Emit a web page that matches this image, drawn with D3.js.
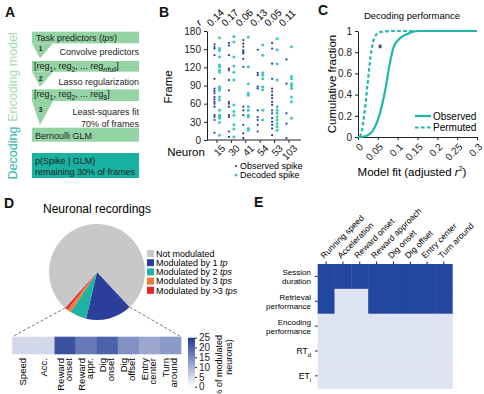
<!DOCTYPE html>
<html>
<head>
<meta charset="utf-8">
<script src="https://cdn.jsdelivr.net/npm/d3@7"></script>
<style>
  body { margin: 0; background: #fff; }
  svg { font-family: "Liberation Sans", Arial, sans-serif; }
  .axis text { font-size: 10px; fill: #222; }
  .axis path, .axis line { stroke: #222; }
</style>
</head>
<body>
<div id="chart"></div>
<script>
// ---- data ----
var neurons = ["15", "30", "41", "54", "53", "103"];
var rValues = ["0.14", "0.17", "0.06", "0.13", "0.05", "0.11"];
var observedFrames = [
  [158, 154, 151, 140, 101, 85, 81, 77, 71, 67, 63, 60, 55, 41, 38, 33, 12],
  [160, 156, 140, 118, 115, 99, 82, 63, 60, 55, 41, 38, 14, 5],
  [165, 159, 154, 148, 145, 143, 134, 121, 55, 49, 41, 25, 11, 3],
  [149, 111, 107, 88, 85, 49, 38, 33, 25, 14],
  [160, 151, 126, 101, 85, 80, 74, 69, 63, 58, 49, 44, 36, 30, 25, 19, 8],
  [133, 93, 44, 27, 3]
];
var decodedFrames = [
  [169, 151, 148, 137, 124, 121, 115, 112, 88, 85, 82, 71, 66, 49, 41, 38, 36, 29, 8],
  [171, 162, 137, 122, 112, 99, 58, 47, 41, 25, 18, 5],
  [170, 121, 93, 77, 74, 55, 49, 41, 38, 19, 16],
  [157, 140, 111, 107, 101, 88, 83, 49, 33],
  [167, 149, 126, 99, 55, 49, 44, 38, 33, 27, 22, 16],
  [154, 105, 101, 93, 89, 85, 71, 63, 36]
];

var fitObservedX = [0, 0.009, 0.03, 0.042, 0.055, 0.07, 0.08, 0.09, 0.1, 0.123, 0.152, 0.3];
var fitObservedY = [0, 0, 0.03, 0.09, 0.22, 0.47, 0.69, 0.85, 0.91, 0.97, 1, 1];
var fitPermutedX = [0.005, 0.009, 0.017, 0.025, 0.034, 0.042, 0.055, 0.085, 0.14];
var fitPermutedY = [0, 0.05, 0.25, 0.53, 0.82, 0.94, 0.99, 1, 1];
var fitTicks = [0, 0.05, 0.1, 0.15, 0.2, 0.25, 0.3];

var pieLabels = ["Modulated by 1 ", "Modulated by 2 ", "Modulated by 3 ", "Modulated by >3 ", "Not modulated"];
var pieItalic = ["tp", "tps", "tps", "tps", ""];
var pieValues = [15.6, 5.6, 1.3, 1.0, 76.5];
var pieColors = ["#2b3f9a", "#1fb3a3", "#f07a3c", "#e8262a", "#c8c8c8"];

var predictorsD = [["Speed"], ["Acc."], ["Reward", "onset"], ["Reward", "appr."], ["Dig", "onset"], ["Dig", "offset"], ["Entry", "center"], ["Turn", "around"]];
var predictorPct = [5, 5, 22, 17, 20, 14, 11, 13];
var pctTicks = [0, 5, 10, 15, 20, 25];

var predictorsE = ["Running speed", "Acceleration", "Reward onset", "Reward approach", "Dig onset", "Dig offset", "Entry center", "Turn around"];
var behaviours = [["Session", "duration"], ["Retrieval", "performance"], ["Encoding", "performance"], ["RT", "d"], ["ET", "i"]];
var significance = [
  [1, 1, 1, 1, 1, 1, 1, 1],
  [1, 0, 0, 1, 1, 1, 1, 1],
  [0, 0, 0, 0, 0, 0, 0, 0],
  [0, 0, 0, 0, 0, 0, 0, 0],
  [0, 0, 0, 0, 0, 0, 0, 0]
];

var svg = d3.select("#chart").append("svg")
  .attr("width", 484)
  .attr("height", 394);

// panel letters
var letters = [["A", 5, 17], ["B", 159, 17], ["C", 318, 15], ["D", 4, 208], ["E", 254, 207]];
svg.selectAll("text.letter").data(letters).enter().append("text")
  .attr("class", "letter")
  .attr("x", d => d[1]).attr("y", d => d[2])
  .attr("font-size", 14).attr("font-weight", "bold").attr("fill", "#111")
  .text(d => d[0]);

// ================= A : flowchart =================
var gA = svg.append("g");
var green = "#93d3a4", teal = "#19b1a1";
var boxX0 = 32, boxX1 = 139;
var boxes = [[31.7, 43.3], [61, 71.7], [89.3, 101], [127.7, 141.7]];
boxes.forEach(function (b) {
  gA.append("rect").attr("x", boxX0).attr("y", b[0]).attr("width", boxX1 - boxX0).attr("height", b[1] - b[0]).attr("fill", green);
});
var arrows = [[43.3, 58.3], [71.7, 86.7], [101, 125]];
arrows.forEach(function (a) {
  gA.append("path").attr("d", `M${boxX0},${a[0]}L${boxX0 + 21},${a[0]}L${boxX0 + 8},${a[1]}Z`).attr("fill", green);
});
gA.append("rect").attr("x", boxX0).attr("y", 153).attr("width", boxX1 - boxX0).attr("height", 25).attr("fill", teal);

var tA = gA.append("g").attr("font-size", 9).attr("fill", "#222");
var t1 = tA.append("text").attr("x", 36).attr("y", 41);
t1.append("tspan").text("Task predictors (");
t1.append("tspan").attr("font-style", "italic").text("tps");
t1.append("tspan").text(")");

function regLine(y, last, lastItalic) {
  var t = tA.append("text").attr("x", 34).attr("y", y);
  t.append("tspan").text("[reg");
  t.append("tspan").attr("font-size", 7).attr("dy", 3).text("1");
  t.append("tspan").attr("dy", -3).text(", reg");
  t.append("tspan").attr("font-size", 7).attr("dy", 3).text("2");
  t.append("tspan").attr("dy", -3).text(", ... reg");
  t.append("tspan").attr("font-size", 7).attr("dy", 3).attr("font-style", lastItalic ? "italic" : "normal").text(last);
  t.append("tspan").attr("dy", -3).text("]");
}
regLine(68.5, "nfull", true);
regLine(97, "8", false);
tA.append("text").attr("x", 35).attr("y", 138.5).text("Bernoulli GLM");
tA.append("text").attr("x", 35).attr("y", 163.5).text("p(Spike | GLM)");
tA.append("text").attr("x", 35).attr("y", 174.5).text("remaining 30% of frames");

var steps = [["1", 51], ["2", 80.5], ["3", 111.5]];
steps.forEach(function (s) {
  tA.append("text").attr("x", 40.5).attr("y", s[1]).attr("font-size", 6.5).attr("font-weight", "bold").attr("text-anchor", "middle").text(s[0]);
});
var sideNotes = [["Convolve predictors", 55], ["Lasso regularization", 85], ["Least-squares fit", 115], ["70% of frames", 126.5]];
sideNotes.forEach(function (s) {
  tA.append("text").attr("x", 139).attr("y", s[1]).attr("text-anchor", "end").text(s[0]);
});

gA.append("text").attr("transform", "translate(17,77) rotate(-90)").attr("text-anchor", "middle")
  .attr("font-size", 12.5).attr("fill", "#a6dcb6").text("Encoding model");
gA.append("text").attr("transform", "translate(17,153) rotate(-90)").attr("text-anchor", "middle")
  .attr("font-size", 12.5).attr("fill", "#2ab8aa").text("Decoding");

// ================= B : raster =================
var gB = svg.append("g");
var xB = d3.scalePoint().domain(neurons).range([217, 289]);
var yB = d3.scaleLinear().domain([0, 180]).range([140, 31]);

gB.append("g").attr("class", "axis").attr("transform", "translate(207,0)")
  .call(d3.axisLeft(yB).tickValues([0, 30, 60, 90, 120, 150, 180]).tickSize(3).tickSizeOuter(0))
  .selectAll("text").attr("font-size", 10);
var axB = gB.append("g").attr("class", "axis").attr("transform", "translate(0,140)");
axB.append("line").attr("x1", 207).attr("x2", 301).attr("y1", 0).attr("y2", 0).attr("stroke", "#222");
axB.selectAll("line.tk").data(neurons).enter().append("line")
  .attr("x1", d => xB(d)).attr("x2", d => xB(d)).attr("y1", 0).attr("y2", 3).attr("stroke", "#222");
axB.selectAll("text").data(neurons).enter().append("text")
  .attr("transform", d => `translate(${xB(d) + 4},${4}) rotate(-45)`)
  .attr("text-anchor", "end").attr("dy", "0.7em").attr("font-size", 9.5).text(d => d);

gB.append("text").attr("x", 186).attr("y", 155.5).attr("text-anchor", "middle").attr("font-size", 11.5).text("Neuron");
gB.append("text").attr("transform", "translate(172,87) rotate(-90)").attr("text-anchor", "middle").attr("font-size", 11.5).text("Frame");

gB.selectAll("text.rval").data(rValues).enter().append("text")
  .attr("class", "rval")
  .attr("transform", (d, i) => `translate(${xB(neurons[i]) - 6},27) rotate(-45)`)
  .attr("font-size", 10).text(d => d);
gB.append("text").attr("transform", "translate(200,26) rotate(-45)").attr("font-size", 10).attr("font-style", "italic").text("r");

neurons.forEach(function (n, i) {
  gB.selectAll(null).data(observedFrames[i]).enter().append("circle")
    .attr("cx", xB(n) - 2.5).attr("cy", d => yB(d)).attr("r", 1.1).attr("fill", "#2a3d9a");
  gB.selectAll(null).data(decodedFrames[i]).enter().append("circle")
    .attr("cx", xB(n) + 2.5).attr("cy", d => yB(d)).attr("r", 1.5).attr("fill", "#3cc9bb");
});

gB.append("circle").attr("cx", 236).attr("cy", 166).attr("r", 1.1).attr("fill", "#2a3d9a");
gB.append("circle").attr("cx", 236).attr("cy", 175).attr("r", 1.5).attr("fill", "#3cc9bb");
gB.append("text").attr("x", 240).attr("y", 169).attr("font-size", 9).text("Observed spike");
gB.append("text").attr("x", 240).attr("y", 178).attr("font-size", 9).text("Decoded spike");

// ================= C : cumulative =================
var gC = svg.append("g");
var xC = d3.scaleLinear().domain([0, 0.3]).range([358, 477]);
var yC = d3.scaleLinear().domain([0, 1]).range([137, 31]);
gC.append("g").attr("class", "axis").attr("transform", "translate(358,0)")
  .call(d3.axisLeft(yC).tickValues([0, 0.2, 0.4, 0.6, 0.8, 1]).tickFormat(d3.format("~g")).tickSize(3).tickSizeOuter(0));
var axC = gC.append("g").attr("class", "axis").attr("transform", "translate(0,137)")
  .call(d3.axisBottom(xC).tickValues(fitTicks).tickFormat(d3.format("~g")).tickSize(3).tickSizeOuter(0));
axC.selectAll("text").attr("text-anchor", "end").attr("dy", "0.35em")
  .attr("transform", "translate(3,8) rotate(-45)").attr("y", 0);

gC.append("text").attr("x", 412).attr("y", 19).attr("text-anchor", "middle").attr("font-size", 9.5).text("Decoding performance");
gC.append("text").attr("transform", "translate(336,84) rotate(-90)").attr("text-anchor", "middle").attr("font-size", 11.5).text("Cumulative fraction");
var xl = gC.append("text").attr("x", 412).attr("y", 176).attr("text-anchor", "middle").attr("font-size", 11.5);
xl.append("tspan").text("Model fit (adjusted ");
xl.append("tspan").attr("font-style", "italic").text("r");
xl.append("tspan").attr("font-size", 7).attr("dy", -5).text("2");
xl.append("tspan").attr("dy", 5).text(")");
gC.append("text").attr("x", 380).attr("y", 53).attr("text-anchor", "middle").attr("font-size", 12).text("*");

var lineC = d3.line().curve(d3.curveMonotoneX).x(d => xC(d[0])).y(d => yC(d[1]));
gC.append("path").attr("d", lineC(d3.zip(fitObservedX, fitObservedY)))
  .attr("fill", "none").attr("stroke", "#1db8a8").attr("stroke-width", 2.2);
gC.append("path").attr("d", lineC(d3.zip(fitPermutedX, fitPermutedY)))
  .attr("fill", "none").attr("stroke", "#1db8a8").attr("stroke-width", 2.2).attr("stroke-dasharray", "3.5,2.5");

gC.append("line").attr("x1", 415).attr("x2", 431).attr("y1", 116).attr("y2", 116).attr("stroke", "#1db8a8").attr("stroke-width", 2.2);
gC.append("line").attr("x1", 415).attr("x2", 431).attr("y1", 127.5).attr("y2", 127.5).attr("stroke", "#1db8a8").attr("stroke-width", 2.2).attr("stroke-dasharray", "3.5,2.5");
gC.append("text").attr("x", 433).attr("y", 119.5).attr("font-size", 10).text("Observed");
gC.append("text").attr("x", 433).attr("y", 131).attr("font-size", 10).text("Permuted");

// ================= D : pie + heat strip =================
var gD = svg.append("g");
gD.append("text").attr("x", 97).attr("y", 213).attr("text-anchor", "middle").attr("font-size", 12).text("Neuronal recordings");
var pcx = 97, pcy = 272, pr = 48;
var startA = 137 * Math.PI / 180;
var pie = d3.pie().sort(null).startAngle(startA).endAngle(startA + 2 * Math.PI);
var arcs = pie(pieValues);
var arc = d3.arc().innerRadius(0).outerRadius(pr);
gD.append("g").attr("transform", `translate(${pcx},${pcy})`)
  .selectAll("path").data(arcs).enter().append("path")
  .attr("d", arc).attr("fill", (d, i) => pieColors[i]);

var legOrder = [4, 0, 1, 2, 3];
legOrder.forEach(function (k, j) {
  var y = 253.5 + j * 9.2;
  gD.append("rect").attr("x", 147).attr("y", y - 3.5).attr("width", 7).attr("height", 7).attr("fill", pieColors[k]);
  var t = gD.append("text").attr("x", 156).attr("y", y + 3.2).attr("font-size", 9);
  t.append("tspan").text(pieLabels[k]);
  if (pieItalic[k]) t.append("tspan").attr("font-style", "italic").text(pieItalic[k]);
});

// heat strip
var stripX0 = 12.3, stripX1 = 181, stripY0 = 336.7, stripY1 = 354.3;
var xD = d3.scaleBand().domain(d3.range(predictorsD.length)).range([stripX0, stripX1]);
var colD = d3.scaleLinear().domain([0, 25]).range(["#ffffff", "#1f3a93"]);
gD.selectAll("rect.cell").data(predictorPct).enter().append("rect")
  .attr("class", "cell")
  .attr("x", (d, i) => xD(i)).attr("y", stripY0).attr("width", xD.bandwidth() + 0.3).attr("height", stripY1 - stripY0)
  .attr("fill", d => colD(d));

// dashed connectors from pie edge
var aL = arcs[3].endAngle, aR = arcs[0].startAngle;
gD.append("line").attr("x1", pcx + pr * Math.sin(aL)).attr("y1", pcy - pr * Math.cos(aL))
  .attr("x2", stripX0).attr("y2", stripY0).attr("stroke", "#777").attr("stroke-dasharray", "3,2");
gD.append("line").attr("x1", pcx + pr * Math.sin(aR)).attr("y1", pcy - pr * Math.cos(aR))
  .attr("x2", stripX1).attr("y2", stripY0).attr("stroke", "#777").attr("stroke-dasharray", "3,2");

predictorsD.forEach(function (lines, i) {
  var cx = xD(i) + xD.bandwidth() / 2;
  var t = gD.append("text").attr("transform", `translate(${cx},358) rotate(-90)`)
    .attr("text-anchor", "end").attr("font-size", 9.5);
  if (lines.length === 1) {
    t.append("tspan").attr("x", 0).attr("y", 3.5).text(lines[0]);
  } else {
    t.append("tspan").attr("x", 0).attr("y", -1.5).text(lines[0]);
    t.append("tspan").attr("x", 0).attr("y", 7).text(lines[1]);
  }
});

// colour bar
var defs = svg.append("defs");
var grad = defs.append("linearGradient").attr("id", "cbar").attr("x1", 0).attr("x2", 0).attr("y1", 1).attr("y2", 0);
grad.append("stop").attr("offset", "0%").attr("stop-color", colD(0));
grad.append("stop").attr("offset", "100%").attr("stop-color", colD(25));
var yCb = d3.scaleLinear().domain([0, 25]).range([386.7, 337.7]);
gD.append("rect").attr("x", 188).attr("y", 337.7).attr("width", 7).attr("height", 49).attr("fill", "url(#cbar)");
gD.append("g").attr("class", "axis").attr("transform", "translate(195,0)")
  .call(d3.axisRight(yCb).tickValues(pctTicks).tickSize(2).tickSizeOuter(0).tickPadding(2))
  .call(g => g.select(".domain").remove())
  .selectAll("text").attr("font-size", 9.5);
gD.append("text").attr("transform", "translate(222,335) rotate(-90)").attr("text-anchor", "end").attr("font-size", 9)
  .text("(% of modulated");
gD.append("text").attr("transform", "translate(232,357) rotate(-90)").attr("text-anchor", "middle").attr("font-size", 9).text("neurons)");

// ================= E : significance matrix =================
var gE = svg.append("g");
var xE = d3.scaleBand().domain(d3.range(predictorsE.length)).range([317.7, 452.3]);
var yE = d3.scaleBand().domain(d3.range(behaviours.length)).range([264, 388.3]);
significance.forEach(function (row, r) {
  gE.selectAll(null).data(row).enter().append("rect")
    .attr("x", (d, c) => xE(c)).attr("y", yE(r))
    .attr("width", xE.bandwidth() + 0.4).attr("height", yE.bandwidth() + 0.4)
    .attr("fill", d => d ? "#2347a0" : "#dee3f1");
});
// ticks
gE.selectAll("line.tx").data(predictorsE).enter().append("line")
  .attr("x1", (d, i) => xE(i) + xE.bandwidth() / 2).attr("x2", (d, i) => xE(i) + xE.bandwidth() / 2)
  .attr("y1", 264).attr("y2", 261.5).attr("stroke", "#222");
gE.selectAll("line.ty").data(behaviours).enter().append("line")
  .attr("x1", 317.7).attr("x2", 315).attr("y1", (d, i) => yE(i) + yE.bandwidth() / 2).attr("y2", (d, i) => yE(i) + yE.bandwidth() / 2)
  .attr("stroke", "#222");
gE.selectAll("text.col").data(predictorsE).enter().append("text")
  .attr("transform", (d, i) => `translate(${xE(i) + xE.bandwidth() / 2 - 2},259) rotate(-45)`)
  .attr("font-size", 8.5).text(d => d);
behaviours.forEach(function (b, i) {
  var cy = yE(i) + yE.bandwidth() / 2;
  if (i < 3) {
    gE.append("text").attr("x", 311).attr("y", cy - 1.5).attr("text-anchor", "end").attr("font-size", 8).text(b[0]);
    gE.append("text").attr("x", 311).attr("y", cy + 7.5).attr("text-anchor", "end").attr("font-size", 8).text(b[1]);
  } else {
    var t = gE.append("text").attr("x", 311).attr("y", cy + 3).attr("text-anchor", "end").attr("font-size", 8.5);
    t.append("tspan").text(b[0]);
    t.append("tspan").attr("font-size", 6).attr("dy", 3).text(b[1]);
  }
});
</script>
</body>
</html>
